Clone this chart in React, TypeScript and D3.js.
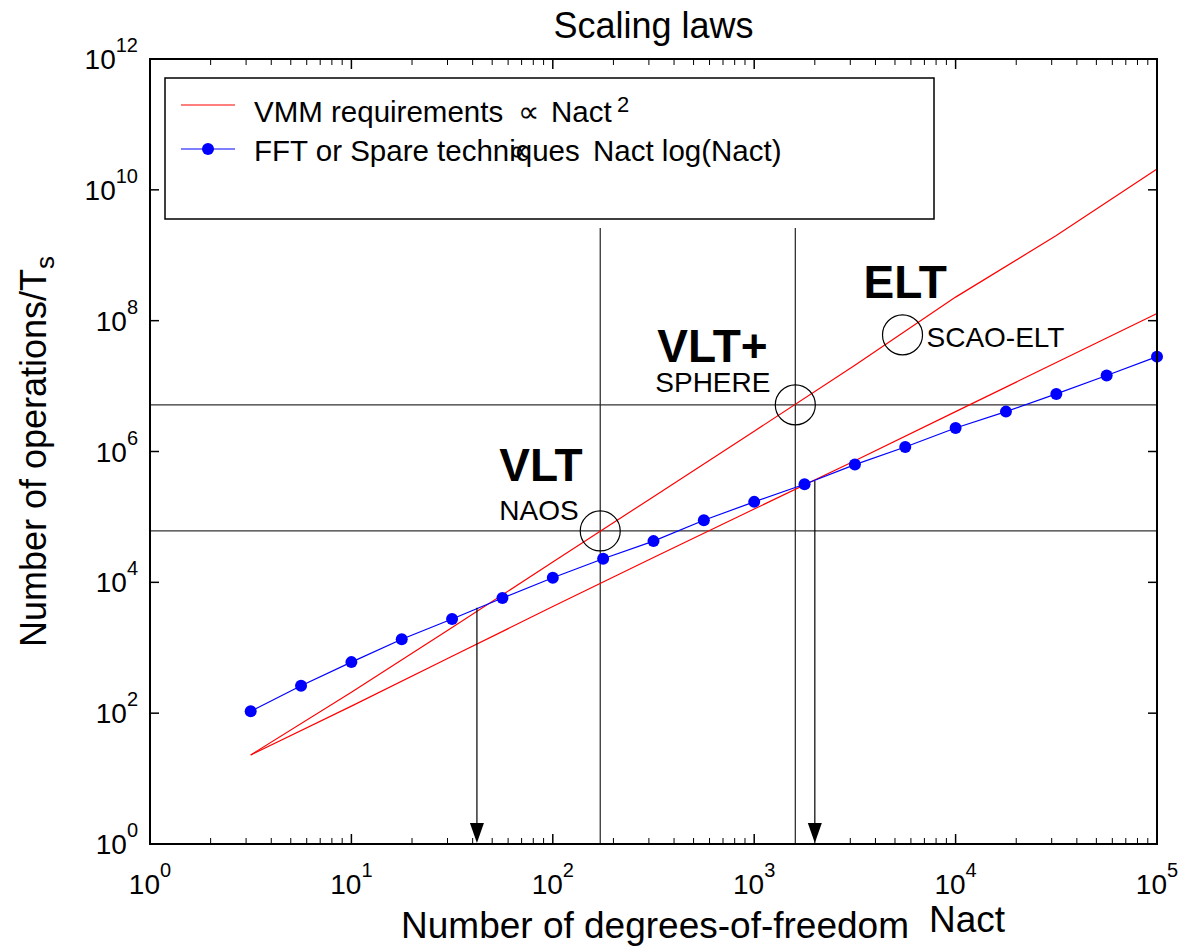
import React from 'react';
import * as d3 from 'd3';

// Number of actuators sampled for the FFT / sparse curve (quarter decades)
const fftNact = [3.162, 5.623, 10, 17.78, 31.62, 56.23, 100, 177.8, 316.2, 562.3, 1000, 1778, 3162, 5623, 10000, 17783, 31623, 56234, 100000];
const fftOps = [107, 263, 603, 1349, 2754, 5754, 11749, 22909, 42658, 89125, 169824, 316228, 630957, 1.17e6, 2.29e6, 4.07e6, 7.59e6, 1.45e7, 2.82e7];

// VMM requirement curves (half decades)
const vmmNact = [3.162, 10, 31.62, 100, 316.2, 1000, 3162, 10000, 31623, 100000];
const vmmOpsSquare = [23, 209, 2040, 20400, 2.04e5, 2.04e6, 2.09e7, 2.29e8, 2.0e9, 2.09e10];
const vmmOpsPow15 = [23, 128, 740, 4260, 2.4e4, 1.32e5, 7.24e5, 4.07e6, 2.29e7, 1.29e8];

// Instruments marked on the chart
const systemNames = ['VLT', 'VLT+', 'ELT'];
const instrumentNames = ['NAOS', 'SPHERE', 'SCAO-ELT'];
const systemNact = [172, 1600, 5450];
const systemOps = [6.1e4, 5.16e6, 6.06e7];

// Crossover points marked by arrows
const crossoverNact = [42, 2000];
const crossoverOps = [4070, 3.55e5];
const guideTopOps = 2.6e9;

const xTickExps = [0, 1, 2, 3, 4, 5];
const yTickExps = [0, 2, 4, 6, 8, 10, 12];

const FONT = '"Liberation Sans", Arial, Helvetica, sans-serif';

export default function App() {
  const W = 1180;
  const H = 946;
  const left = 150, right = 1157, top = 59, bottom = 844;
  const x = d3.scaleLog().domain([1, 1e5]).range([left, right]);
  const y = d3.scaleLog().domain([1, 1e12]).range([bottom, top]);

  const line = d3.line<[number, number]>().x(d => x(d[0])).y(d => y(d[1]));
  const fftPath = line(fftNact.map((n, i) => [n, fftOps[i]]))!;
  const sqPath = line(vmmNact.map((n, i) => [n, vmmOpsSquare[i]]))!;
  const p15Path = line(vmmNact.map((n, i) => [n, vmmOpsPow15[i]]))!;

  const minorX: number[] = [];
  for (let e = 0; e < 5; e++) for (let m = 2; m <= 9; m++) minorX.push(m * Math.pow(10, e));

  const labelOffsets = [
    { sx: -101, sy: -50, ix: -101, iy: -11 },
    { sx: -138, sy: -43, ix: -140, iy: -13 },
    { sx: -39, sy: -37, ix: 24, iy: 12 },
  ];

  const legendFont = 29.5;

  return (
    <svg width={W} height={H} style={{ position: 'absolute', left: 0, top: 0, display: 'block', background: '#fff' }} fontFamily={FONT}>
      <rect x={0} y={0} width={W} height={H} fill="#fff" />
      {/* title */}
      <text x={(left + right) / 2} y={38} fontSize={36} textAnchor="middle">Scaling laws</text>

      {/* reference guides */}
      {systemOps.slice(0, 2).map((v, i) => (
        <line key={'h' + i} x1={left} x2={right} y1={y(v)} y2={y(v)} stroke="#333" strokeWidth={1.2} />
      ))}
      {systemNact.slice(0, 2).map((n, i) => (
        <line key={'v' + i} x1={x(n)} x2={x(n)} y1={y(guideTopOps)} y2={bottom} stroke="#222" strokeWidth={1.2} />
      ))}

      {/* curves */}
      <path d={sqPath} fill="none" stroke="#ff0000" strokeWidth={1.2} />
      <path d={p15Path} fill="none" stroke="#ff0000" strokeWidth={1.2} />
      <path d={fftPath} fill="none" stroke="#0000ff" strokeWidth={1.2} />
      {fftNact.map((n, i) => (
        <circle key={'m' + i} cx={x(n)} cy={y(fftOps[i])} r={6} fill="#0000ff" />
      ))}

      {/* crossover arrows */}
      {crossoverNact.map((n, i) => (
        <g key={'a' + i}>
          <line x1={x(n)} x2={x(n)} y1={y(crossoverOps[i])} y2={bottom - 18} stroke="#000" strokeWidth={1.2} />
          <path d={`M${x(n) - 7},${bottom - 21} L${x(n) + 7},${bottom - 21} L${x(n)},${bottom - 1} Z`} fill="#000" />
        </g>
      ))}

      {/* instrument markers */}
      {systemNact.map((n, i) => {
        const cx = x(n), cy = y(systemOps[i]);
        const o = labelOffsets[i];
        return (
          <g key={'s' + i}>
            <circle cx={cx} cy={cy} r={20} fill="none" stroke="#000" strokeWidth={1.2} />
            <text x={cx + o.sx} y={cy + o.sy} fontSize={46} fontWeight="bold">{systemNames[i]}</text>
            <text x={cx + o.ix} y={cy + o.iy} fontSize={28}>{instrumentNames[i]}</text>
          </g>
        );
      })}

      {/* frame */}
      <rect x={left} y={top} width={right - left} height={bottom - top} fill="none" stroke="#000" strokeWidth={2} />

      {/* x ticks */}
      {xTickExps.map(e => {
        const px = x(Math.pow(10, e));
        return (
          <g key={'xt' + e}>
            <line x1={px} x2={px} y1={bottom} y2={bottom - 10} stroke="#000" strokeWidth={1.5} />
            <line x1={px} x2={px} y1={top} y2={top + 10} stroke="#000" strokeWidth={1.5} />
            <text x={px} y={894} fontSize={28} textAnchor="middle">
              10<tspan fontSize={20} dy={-17}>{e}</tspan>
            </text>
          </g>
        );
      })}
      {minorX.map((v, i) => (
        <g key={'xm' + i}>
          <line x1={x(v)} x2={x(v)} y1={bottom} y2={bottom - 6} stroke="#000" strokeWidth={1} />
          <line x1={x(v)} x2={x(v)} y1={top} y2={top + 6} stroke="#000" strokeWidth={1} />
        </g>
      ))}

      {/* y ticks */}
      {yTickExps.map(e => {
        const py = y(Math.pow(10, e));
        return (
          <g key={'yt' + e}>
            <line x1={left} x2={left + 9} y1={py} y2={py} stroke="#000" strokeWidth={1.5} />
            <line x1={right} x2={right - 9} y1={py} y2={py} stroke="#000" strokeWidth={1.5} />
            <text x={138} y={py + 10} fontSize={28} textAnchor="end">
              10<tspan fontSize={20} dy={-17}>{e}</tspan>
            </text>
          </g>
        );
      })}

      {/* axis titles */}
      <text x={909} y={938} fontSize={37} textAnchor="end">Number of degrees-of-freedom</text>
      <text x={929} y={932} fontSize={37}>Nact</text>
      <text transform={`translate(46, ${(top + bottom) / 2}) rotate(-90)`} fontSize={36} textAnchor="middle">
        Number of operations/T<tspan fontSize={26} dy={8}>s</tspan>
      </text>

      {/* legend */}
      <rect x={165} y={78} width={769} height={141} fill="#fff" stroke="#000" strokeWidth={1.5} />
      <line x1={181} x2={235} y1={105} y2={105} stroke="#ff0000" strokeWidth={1.2} />
      <text x={254} y={122} fontSize={legendFont}>VMM requirements</text>
      <text x={518} y={122} fontSize={legendFont}>∝</text>
      <text x={551} y={122} fontSize={legendFont}>Nact</text>
      <text x={617} y={112} fontSize={22}>2</text>
      <line x1={181} x2={235} y1={149} y2={149} stroke="#0000ff" strokeWidth={1.2} />
      <circle cx={208} cy={149} r={6} fill="#0000ff" />
      <text x={254} y={161} fontSize={legendFont}>FFT or Spare techniques</text>
      <text x={509} y={161} fontSize={legendFont}>∝</text>
      <text x={593} y={161} fontSize={legendFont}>Nact log(Nact)</text>
    </svg>
  );
}
